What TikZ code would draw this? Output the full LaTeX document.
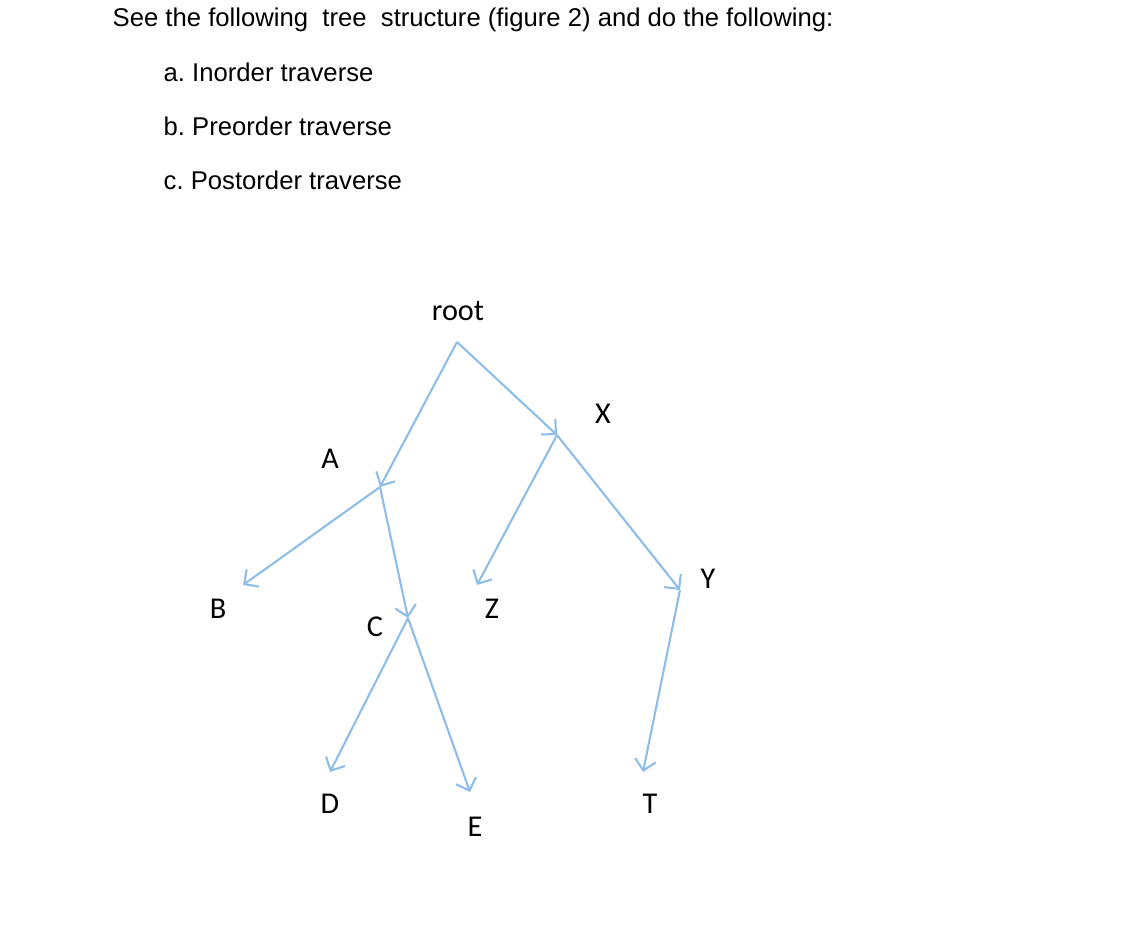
\documentclass[tikz,border=0pt]{standalone}
\usepackage{fontspec}
\setmainfont{Liberation Sans}
\newfontfamily\lblfont{Carlito}
\usetikzlibrary{arrows.meta}
\definecolor{edgeblue}{HTML}{8DBDE8}
\tikzset{
  edge/.style={draw=edgeblue,line width=0.6pt,-{Straight Barb[length=3pt,width=6pt]}},
  txt/.style={anchor=base west,inner sep=0pt,font=\fontsize{7.3pt}{9pt}\selectfont\frenchspacing},
  lbl/.style={inner sep=0pt,font=\lblfont\fontsize{8.6pt}{10pt}\selectfont}
}
\begin{document}
\begin{tikzpicture}[x=0.01cm,y=-0.01cm]
\useasboundingbox (0,0) rectangle (1140,930);
\node[txt] (t0) at (112,26) {See the following\ \ tree\ \ structure (figure 2) and do the following:};
\node[txt] (t1) at (163,81) {a. Inorder traverse};
\node[txt] (t2) at (163,135) {b. Preorder traverse};
\node[txt] (t3) at (163,189) {c. Postorder traverse};
\coordinate (r) at (457,342);
\coordinate (a) at (380,487);
\coordinate (x) at (557,435);
\coordinate (b) at (243,585);
\coordinate (c) at (408,618);
\coordinate (z) at (477,585);
\coordinate (y) at (680,590);
\coordinate (t) at (643,772);
\coordinate (d) at (330,772);
\coordinate (e) at (470,792);
\draw[edge] (r) -- (a);
\draw[edge] (r) -- (x);
\draw[edge] (a) -- (b);
\draw[edge] (a) -- (c);
\draw[edge] (x) -- (z);
\draw[edge] (x) -- (y);
\draw[edge] (y) -- (t);
\draw[edge] (c) -- (d);
\draw[edge] (c) -- (e);
\node[lbl] (lroot) at (458,311) {root};
\node[lbl] (lx) at (603,414) {X};
\node[lbl] (la) at (330,459) {A};
\node[lbl] (lb) at (218,609) {B};
\node[lbl] (lc) at (375,627) {C};
\node[lbl] (lz) at (492,609) {Z};
\node[lbl] (ly) at (708,579) {Y};
\node[lbl] (ld) at (330,804) {D};
\node[lbl] (lt) at (650,804) {T};
\node[lbl] (le) at (475,827) {E};
\end{tikzpicture}
\end{document}
